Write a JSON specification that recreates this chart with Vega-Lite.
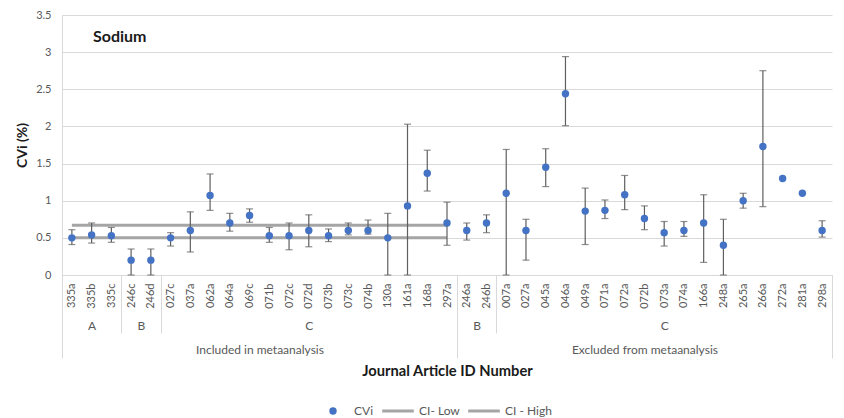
{
  "$schema": "https://vega.github.io/schema/vega-lite/v6.json",
  "width": 770,
  "height": 260,
  "autosize": {"type": "none"},
  "padding": {"left": 62, "top": 15, "right": 12, "bottom": 143},
  "title": {"text": "Sodium", "anchor": "start", "frame": "group", "orient": "top", "offset": -49, "dx": 31, "baseline": "alphabetic", "font": "Lato", "fontSize": 16, "fontWeight": "bold", "color": "#1a1a1a"},
  "config": {
    "font": "Lato",
    "view": {"stroke": null},
    "axis": {"labelFont": "Lato", "labelColor": "#595959", "labelFontSize": 11, "titleFont": "Lato", "titleColor": "#1a1a1a", "titleFontSize": 14, "titleFontWeight": "bold"}
  },
  "datasets": {
    "pts": [
      {"id": "335a", "set": "Included in metaanalysis", "sub": "A", "cvi": 0.50, "lo": 0.41, "hi": 0.61, "ciLow": 0.5, "ciHigh": 0.67},
      {"id": "335b", "set": "Included in metaanalysis", "sub": "A", "cvi": 0.54, "lo": 0.43, "hi": 0.70, "ciLow": 0.5, "ciHigh": 0.67},
      {"id": "335c", "set": "Included in metaanalysis", "sub": "A", "cvi": 0.53, "lo": 0.44, "hi": 0.64, "ciLow": 0.5, "ciHigh": 0.67},
      {"id": "246c", "set": "Included in metaanalysis", "sub": "B", "cvi": 0.20, "lo": 0.00, "hi": 0.35, "ciLow": 0.5, "ciHigh": 0.67},
      {"id": "246d", "set": "Included in metaanalysis", "sub": "B", "cvi": 0.20, "lo": 0.00, "hi": 0.35, "ciLow": 0.5, "ciHigh": 0.67},
      {"id": "027c", "set": "Included in metaanalysis", "sub": "C", "cvi": 0.50, "lo": 0.39, "hi": 0.57, "ciLow": 0.5, "ciHigh": 0.67},
      {"id": "037a", "set": "Included in metaanalysis", "sub": "C", "cvi": 0.60, "lo": 0.31, "hi": 0.85, "ciLow": 0.5, "ciHigh": 0.67},
      {"id": "062a", "set": "Included in metaanalysis", "sub": "C", "cvi": 1.07, "lo": 0.87, "hi": 1.36, "ciLow": 0.5, "ciHigh": 0.67},
      {"id": "064a", "set": "Included in metaanalysis", "sub": "C", "cvi": 0.70, "lo": 0.59, "hi": 0.83, "ciLow": 0.5, "ciHigh": 0.67},
      {"id": "069c", "set": "Included in metaanalysis", "sub": "C", "cvi": 0.80, "lo": 0.71, "hi": 0.89, "ciLow": 0.5, "ciHigh": 0.67},
      {"id": "071b", "set": "Included in metaanalysis", "sub": "C", "cvi": 0.53, "lo": 0.44, "hi": 0.64, "ciLow": 0.5, "ciHigh": 0.67},
      {"id": "072c", "set": "Included in metaanalysis", "sub": "C", "cvi": 0.53, "lo": 0.34, "hi": 0.70, "ciLow": 0.5, "ciHigh": 0.67},
      {"id": "072d", "set": "Included in metaanalysis", "sub": "C", "cvi": 0.60, "lo": 0.38, "hi": 0.81, "ciLow": 0.5, "ciHigh": 0.67},
      {"id": "073b", "set": "Included in metaanalysis", "sub": "C", "cvi": 0.53, "lo": 0.45, "hi": 0.62, "ciLow": 0.5, "ciHigh": 0.67},
      {"id": "073c", "set": "Included in metaanalysis", "sub": "C", "cvi": 0.60, "lo": 0.54, "hi": 0.70, "ciLow": 0.5, "ciHigh": 0.67},
      {"id": "074b", "set": "Included in metaanalysis", "sub": "C", "cvi": 0.60, "lo": 0.55, "hi": 0.74, "ciLow": 0.5, "ciHigh": 0.67},
      {"id": "130a", "set": "Included in metaanalysis", "sub": "C", "cvi": 0.50, "lo": 0.00, "hi": 0.83, "ciLow": 0.5, "ciHigh": 0.67},
      {"id": "161a", "set": "Included in metaanalysis", "sub": "C", "cvi": 0.93, "lo": 0.00, "hi": 2.03, "ciLow": 0.5, "ciHigh": 0.67},
      {"id": "168a", "set": "Included in metaanalysis", "sub": "C", "cvi": 1.37, "lo": 1.13, "hi": 1.68, "ciLow": 0.5, "ciHigh": 0.67},
      {"id": "297a", "set": "Included in metaanalysis", "sub": "C", "cvi": 0.70, "lo": 0.40, "hi": 0.98, "ciLow": 0.5, "ciHigh": 0.67},
      {"id": "246a", "set": "Excluded from metaanalysis", "sub": "B", "cvi": 0.60, "lo": 0.47, "hi": 0.70, "ciLow": null, "ciHigh": null},
      {"id": "246b", "set": "Excluded from metaanalysis", "sub": "B", "cvi": 0.70, "lo": 0.57, "hi": 0.81, "ciLow": null, "ciHigh": null},
      {"id": "007a", "set": "Excluded from metaanalysis", "sub": "C", "cvi": 1.10, "lo": 0.00, "hi": 1.69, "ciLow": null, "ciHigh": null},
      {"id": "027a", "set": "Excluded from metaanalysis", "sub": "C", "cvi": 0.60, "lo": 0.20, "hi": 0.75, "ciLow": null, "ciHigh": null},
      {"id": "045a", "set": "Excluded from metaanalysis", "sub": "C", "cvi": 1.45, "lo": 1.19, "hi": 1.70, "ciLow": null, "ciHigh": null},
      {"id": "046a", "set": "Excluded from metaanalysis", "sub": "C", "cvi": 2.44, "lo": 2.01, "hi": 2.94, "ciLow": null, "ciHigh": null},
      {"id": "049a", "set": "Excluded from metaanalysis", "sub": "C", "cvi": 0.86, "lo": 0.41, "hi": 1.17, "ciLow": null, "ciHigh": null},
      {"id": "071a", "set": "Excluded from metaanalysis", "sub": "C", "cvi": 0.87, "lo": 0.76, "hi": 1.01, "ciLow": null, "ciHigh": null},
      {"id": "072a", "set": "Excluded from metaanalysis", "sub": "C", "cvi": 1.08, "lo": 0.88, "hi": 1.34, "ciLow": null, "ciHigh": null},
      {"id": "072b", "set": "Excluded from metaanalysis", "sub": "C", "cvi": 0.76, "lo": 0.61, "hi": 0.93, "ciLow": null, "ciHigh": null},
      {"id": "073a", "set": "Excluded from metaanalysis", "sub": "C", "cvi": 0.57, "lo": 0.39, "hi": 0.72, "ciLow": null, "ciHigh": null},
      {"id": "074a", "set": "Excluded from metaanalysis", "sub": "C", "cvi": 0.60, "lo": 0.52, "hi": 0.72, "ciLow": null, "ciHigh": null},
      {"id": "166a", "set": "Excluded from metaanalysis", "sub": "C", "cvi": 0.70, "lo": 0.17, "hi": 1.08, "ciLow": null, "ciHigh": null},
      {"id": "248a", "set": "Excluded from metaanalysis", "sub": "C", "cvi": 0.40, "lo": 0.00, "hi": 0.75, "ciLow": null, "ciHigh": null},
      {"id": "265a", "set": "Excluded from metaanalysis", "sub": "C", "cvi": 1.00, "lo": 0.90, "hi": 1.10, "ciLow": null, "ciHigh": null},
      {"id": "266a", "set": "Excluded from metaanalysis", "sub": "C", "cvi": 1.73, "lo": 0.92, "hi": 2.75, "ciLow": null, "ciHigh": null},
      {"id": "272a", "set": "Excluded from metaanalysis", "sub": "C", "cvi": 1.30, "lo": null, "hi": null, "ciLow": null, "ciHigh": null},
      {"id": "281a", "set": "Excluded from metaanalysis", "sub": "C", "cvi": 1.10, "lo": null, "hi": null, "ciLow": null, "ciHigh": null},
      {"id": "298a", "set": "Excluded from metaanalysis", "sub": "C", "cvi": 0.60, "lo": 0.51, "hi": 0.73, "ciLow": null, "ciHigh": null}
    ],
    "groups": [
      {"set": "Included in metaanalysis", "sub": "A", "start": 0, "end": 3},
      {"set": "Included in metaanalysis", "sub": "B", "start": 3, "end": 5},
      {"set": "Included in metaanalysis", "sub": "C", "start": 5, "end": 20},
      {"set": "Excluded from metaanalysis", "sub": "B", "start": 20, "end": 22},
      {"set": "Excluded from metaanalysis", "sub": "C", "start": 22, "end": 39}
    ]
  },
  "layer": [
    {
      "data": {"name": "pts"},
      "encoding": {
        "x": {"field": "id", "type": "ordinal", "sort": null,
          "scale": {"type": "point", "padding": 0.5},
          "axis": {"title": null, "labelAngle": 270, "ticks": false, "tickSize": 0, "labelPadding": 8, "domainColor": "#d9d9d9", "domainWidth": 1, "grid": false, "labelOverlap": false}}
      },
      "layer": [
        {
          "mark": {"type": "line", "strokeWidth": 3},
          "encoding": {
            "y": {"field": "ciLow", "type": "quantitative",
              "scale": {"domain": [0, 3.5], "nice": false, "zero": true},
              "axis": {"values": [0, 0.5, 1, 1.5, 2, 2.5, 3, 3.5], "format": "~g", "grid": true, "gridColor": "#d9d9d9", "domainColor": "#d9d9d9", "ticks": false, "labelPadding": 11, "title": "CVi (%)", "titlePadding": 6, "labelOverlap": false}},
            "color": {"datum": "CI- Low", "type": "nominal",
              "scale": {"domain": ["CVi", "CI- Low", "CI - High"], "range": ["#4472C4", "#A5A5A5", "#A5A5A5"]},
              "legend": {"title": null, "orient": "none", "legendX": 265, "legendY": 390, "direction": "horizontal", "columns": 3, "labelFont": "Lato", "labelFontSize": 12, "labelColor": "#595959", "columnPadding": 2, "labelOffset": 15,
                "encode": {"symbols": {"update": {
                  "shape": {"signal": "datum.value === 'CVi' ? 'circle' : 'stroke'"},
                  "size": {"signal": "datum.value === 'CVi' ? 55 : 1000"},
                  "strokeWidth": {"signal": "datum.value === 'CVi' ? 0 : 3"},
                  "fill": {"signal": "datum.value === 'CVi' ? '#4472C4' : 'transparent'"},
                  "stroke": {"signal": "datum.value === 'CVi' ? 'transparent' : '#A5A5A5'"},
                  "opacity": {"value": 1}
                }}}}}
          }
        },
        {
          "mark": {"type": "line", "strokeWidth": 3},
          "encoding": {
            "y": {"field": "ciHigh", "type": "quantitative",
              "axis": {"values": [0, 0.5, 1, 1.5, 2, 2.5, 3, 3.5], "format": "~g", "grid": true, "gridColor": "#d9d9d9", "domainColor": "#d9d9d9", "ticks": false, "labelPadding": 11, "title": "CVi (%)", "titlePadding": 6, "labelOverlap": false}},
            "color": {"datum": "CI - High", "type": "nominal"}
          }
        },
        {
          "mark": {"type": "rule", "color": "#5f5f5f", "strokeWidth": 1.2},
          "encoding": {
            "y": {"field": "lo", "type": "quantitative",
              "axis": {"values": [0, 0.5, 1, 1.5, 2, 2.5, 3, 3.5], "format": "~g", "grid": true, "gridColor": "#d9d9d9", "domainColor": "#d9d9d9", "ticks": false, "labelPadding": 11, "title": "CVi (%)", "titlePadding": 6, "labelOverlap": false}},
            "y2": {"field": "hi"}
          }
        },
        {
          "mark": {"type": "tick", "color": "#5f5f5f", "size": 7, "thickness": 1.2, "orient": "horizontal"},
          "encoding": {"y": {"field": "lo", "type": "quantitative",
            "axis": {"values": [0, 0.5, 1, 1.5, 2, 2.5, 3, 3.5], "format": "~g", "grid": true, "gridColor": "#d9d9d9", "domainColor": "#d9d9d9", "ticks": false, "labelPadding": 11, "title": "CVi (%)", "titlePadding": 6, "labelOverlap": false}}}
        },
        {
          "mark": {"type": "tick", "color": "#5f5f5f", "size": 7, "thickness": 1.2, "orient": "horizontal"},
          "encoding": {"y": {"field": "hi", "type": "quantitative",
            "axis": {"values": [0, 0.5, 1, 1.5, 2, 2.5, 3, 3.5], "format": "~g", "grid": true, "gridColor": "#d9d9d9", "domainColor": "#d9d9d9", "ticks": false, "labelPadding": 11, "title": "CVi (%)", "titlePadding": 6, "labelOverlap": false}}}
        },
        {
          "mark": {"type": "circle", "size": 55, "opacity": 1},
          "encoding": {
            "y": {"field": "cvi", "type": "quantitative",
              "axis": {"values": [0, 0.5, 1, 1.5, 2, 2.5, 3, 3.5], "format": "~g", "grid": true, "gridColor": "#d9d9d9", "domainColor": "#d9d9d9", "ticks": false, "labelPadding": 11, "title": "CVi (%)", "titlePadding": 6, "labelOverlap": false}},
            "color": {"datum": "CVi", "type": "nominal"}
          }
        }
      ]
    },
    {
      "data": {"name": "groups"},
      "mark": {"type": "rect", "opacity": 0},
      "encoding": {
        "x": {"field": "start", "type": "quantitative", "scale": {"domain": [0, 39], "nice": false, "zero": false},
          "axis": {"orient": "bottom", "values": [0, 3, 5, 20, 22, 39], "labels": false, "tickSize": 58, "tickColor": "#d9d9d9", "domain": false, "grid": false, "title": null}},
        "x2": {"field": "end"}
      }
    },
    {
      "data": {"name": "groups"},
      "mark": {"type": "rect", "opacity": 0},
      "encoding": {
        "x": {"field": "start", "type": "quantitative", "scale": {"domain": [0, 39], "nice": false, "zero": false},
          "axis": {"orient": "bottom", "values": [0, 20, 39], "labels": false, "tickSize": 83, "tickColor": "#d9d9d9", "domain": false, "grid": false, "title": null}},
        "x2": {"field": "end"}
      }
    },
    {
      "data": {"name": "groups"},
      "mark": {"type": "rect", "opacity": 0},
      "encoding": {
        "x": {"field": "start", "type": "quantitative", "scale": {"domain": [0, 39], "nice": false, "zero": false},
          "axis": {"orient": "bottom", "values": [1.5, 4, 12.5, 21, 30.5], "ticks": false, "tickSize": 0, "labelPadding": 45, "labelFontSize": 12, "domain": false, "grid": false, "title": null, "labelOverlap": false, "labelFlush": false, "labelBound": false,
            "labelExpr": "datum.value < 3 ? 'A' : ((datum.value < 5 || (datum.value > 20 && datum.value < 22)) ? 'B' : 'C')"}},
        "x2": {"field": "end"}
      }
    },
    {
      "data": {"name": "groups"},
      "mark": {"type": "rect", "opacity": 0},
      "encoding": {
        "x": {"field": "start", "type": "quantitative", "scale": {"domain": [0, 39], "nice": false, "zero": false},
          "axis": {"orient": "bottom", "values": [10, 29.5], "ticks": false, "tickSize": 0, "labelPadding": 69, "labelFontSize": 12, "domain": false, "grid": false, "labelOverlap": false, "labelFlush": false, "labelBound": false,
            "labelExpr": "datum.value < 20 ? 'Included in metaanalysis' : 'Excluded from metaanalysis'",
            "title": "Journal Article ID Number", "titlePadding": 8, "titleFontSize": 14.7}},
        "x2": {"field": "end"}
      }
    }
  ],
  "resolve": {"scale": {"x": "independent"}, "axis": {"x": "independent"}}
}
